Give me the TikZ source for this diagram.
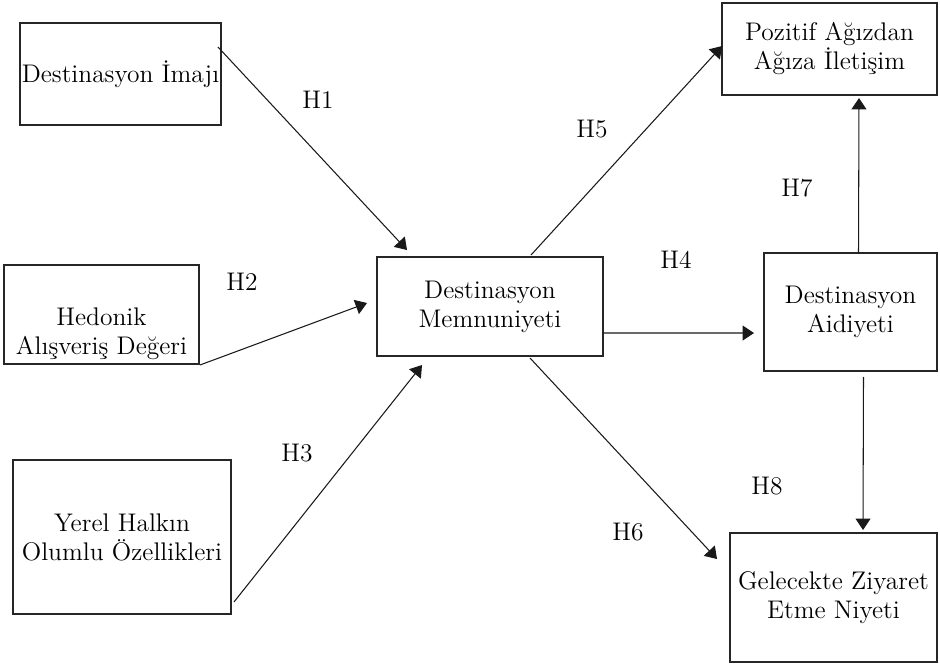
\documentclass[tikz,border=0pt]{standalone}
\usepackage{fontspec}
\usetikzlibrary{positioning,calc}
\usetikzlibrary{arrows.meta}

\begin{document}
\begin{tikzpicture}[x=0.02cm,y=-0.02cm,
         font=\fontsize{14.5}{16.5}\selectfont,
         construct/.style = {draw=black!85,line width=0.8pt,align=center,
         inner sep=0pt,outer sep=0pt},
         path/.style = {line width=0.6pt,black!90,
         -{Triangle[length=6.5pt,width=8.5pt]}},
         hyp/.style = {inner sep=0pt}
]
      \useasboundingbox (0,0) rectangle (940,664);

      % constructs
      \node[construct,minimum width=4.02cm,minimum height=2.04cm] (imaj) at (120.5,74) {Destinasyon İmajı};
      \node[construct,minimum width=3.90cm,minimum height=1.98cm] (hedon) at (101.5,314.5) {\\[15pt]Hedonik\\Alışveriş Değeri};
      \node[construct,minimum width=4.36cm,minimum height=3.08cm] (halk) at (122,537) {Yerel Halkın\\Olumlu Özellikleri};
      \node[construct,minimum width=4.52cm,minimum height=1.98cm] (memn) at (490,306.5) {Destinasyon\\Memnuniyeti};
      \node[construct,minimum width=4.30cm,minimum height=1.84cm] (wom) at (829.5,49) {Pozitif Ağızdan\\Ağıza İletişim};
      \node[construct,minimum width=3.46cm,minimum height=2.36cm] (aidiyet) at (850.5,312) {Destinasyon\\Aidiyeti};
      \node[construct,minimum width=4.14cm,minimum height=2.58cm] (niyet) at (833.5,597.5) {Gelecekte Ziyaret\\Etme Niyeti};

      % hypotheses
      \draw[path] ($(imaj.north east)+(-3,24)$) -- ($(memn.north west)+(30,-7)$);
      \draw[path] ($(hedon.south east)+(1,1)$) -- ($(memn.west)+(-10,-3.5)$);
      \draw[path] ($(halk.south east)+(3,-12)$) -- ($(memn.south west)+(45,9)$);
      \draw[path] ($(memn.east)+(0,26.5)$) -- ($(aidiyet.west)+(-10,21)$);
      \draw[path] ($(memn.north)+(41,-2)$) -- ($(wom.west)+(0,-3)$);
      \draw[path] ($(memn.south)+(40,2)$) -- ($(niyet.north west)+(-13,26)$);
      \draw[path] ($(aidiyet.north)+(8,0)$) -- ($(wom.south)+(29.5,3)$);
      \draw[path] ($(aidiyet.south)+(13,6)$) -- ($(niyet.north)+(29.5,-3)$);

      \node[hyp] (h1) at (318,100) {H1};
      \node[hyp] (h2) at (242,282) {H2};
      \node[hyp] (h3) at (297,453) {H3};
      \node[hyp] (h4) at (676,260) {H4};
      \node[hyp] (h5) at (592,129) {H5};
      \node[hyp] (h6) at (628,532) {H6};
      \node[hyp] (h7) at (797,188) {H7};
      \node[hyp] (h8) at (767,486) {H8};
\end{tikzpicture}
\end{document}
